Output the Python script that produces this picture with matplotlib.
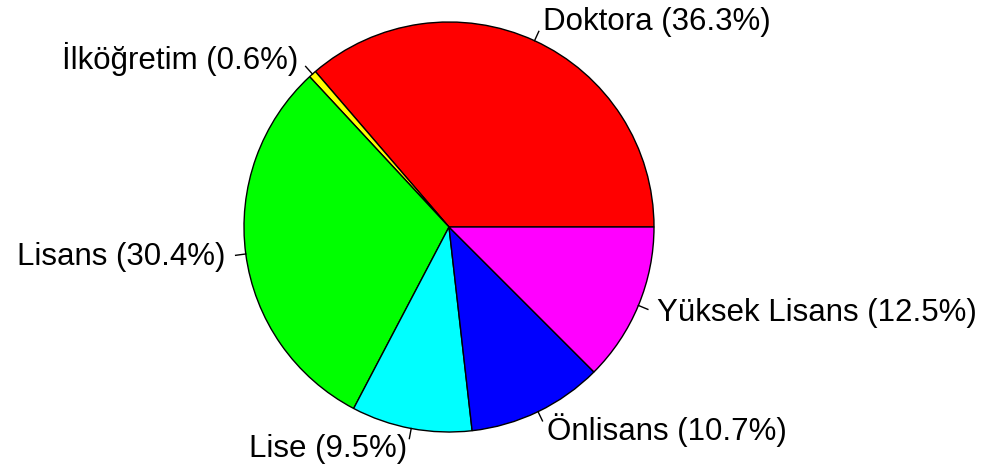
import numpy as np
import matplotlib.pyplot as plt

plt.rcParams['font.family'] = ['Liberation Sans', 'DejaVu Sans']

# education levels and their shares (%)
labels = ["Doktora", "İlköğretim", "Lisans", "Lise", "Önlisans", "Yüksek Lisans"]
shares = [36.3, 0.6, 30.4, 9.5, 10.7, 12.5]
colors = ["#FF0000", "#FFFF00", "#00FF00", "#00FFFF", "#0000FF", "#FF00FF"]

fig = plt.figure(figsize=(9.86, 4.74), dpi=100)
ax = fig.add_axes([0, 0, 1, 1])

# work in pixel-like units so the pie lands where R put it
cx, cy, r = 449, 247, 205
wedges, _ = ax.pie(shares, colors=colors, startangle=0, counterclock=True,
                   radius=r, center=(cx, cy),
                   wedgeprops=dict(edgecolor="black", linewidth=1.0))

# R-style labels: short tick from r to 1.05r, text at 1.1r
total = sum(shares)
cum = 0
for lab, s in zip(labels, shares):
    mid = np.deg2rad((cum + s / 2) / total * 360)
    cum += s
    c, sn = np.cos(mid), np.sin(mid)
    ax.plot([cx + r * c, cx + 1.05 * r * c], [cy + r * sn, cy + 1.05 * r * sn],
            color="black", lw=1)
    ax.text(cx + 1.1 * r * c, cy + 1.1 * r * sn, f"{lab} ({s}%)",
            ha="left" if c > 0 else "right", va="center", fontsize=22.5)

ax.set_xlim(0, 986)
ax.set_ylim(0, 474)
ax.set_aspect("equal")
ax.axis("off")

fig.savefig("out.png", dpi=100)
